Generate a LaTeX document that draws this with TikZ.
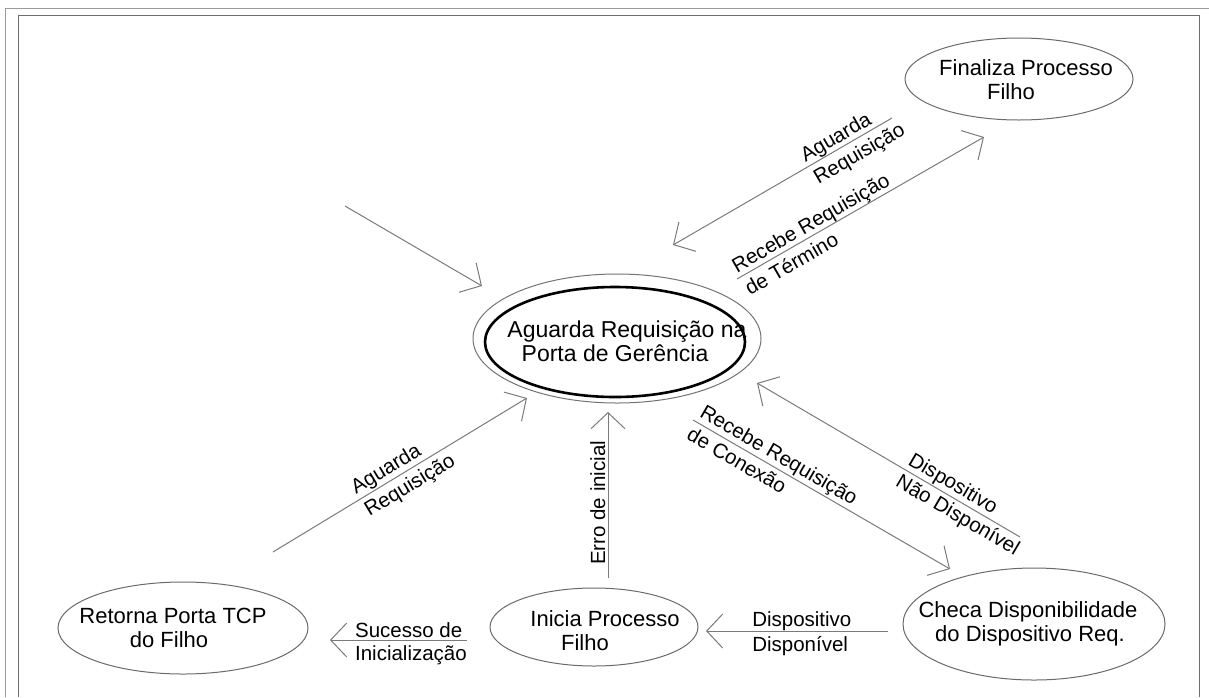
\documentclass[tikz,border=0pt]{standalone}
\usepackage{fontspec}
\setmainfont{Liberation Sans}
\usetikzlibrary{arrows.meta,shapes.geometric,calc}
\definecolor{connc}{HTML}{7A7A7A}
\definecolor{edgec}{HTML}{6A6A6A}
\definecolor{framea}{HTML}{9A9A9A}
\definecolor{frameb}{HTML}{6E6E6E}
\tikzset{
  conn/.style={draw=connc, line width=1pt, -{Straight Barb[length=16pt,width=34pt,line width=1pt]}},
  stateshape/.style={ellipse, draw=edgec, line width=1pt, inner sep=0pt},
  boxtext/.style={align=center, font=\fontsize{22}{24}\selectfont, inner sep=0pt},
  lbl/.style={font=\fontsize{20.5}{24}\selectfont, inner sep=0pt},
}
\newcommand{\edgelbl}[7]{%
  \begin{scope}[shift={(#2)}, rotate=#3, transform shape]
    \node[lbl, anchor=base west] (#1a) at (0,#6) {#4};
    \node[lbl, anchor=base west] (#1b) at (0,#7) {#5};
  \end{scope}}
\begin{document}
\begin{tikzpicture}[x=1pt,y=1pt]
\useasboundingbox (0,-697) rectangle (1209,0);
% frame
\draw[framea, line width=1pt] (5,-697) -- (5,-8) -- (1209,-8);
\draw[frameb, line width=1pt] (18,-697) -- (18,-15) -- (1199,-15) -- (1199,-697);

% states
\node[stateshape, draw=black!55, minimum width=288pt, minimum height=129pt] (mainout) at (617,-338.5) {};
\node[stateshape, draw=black, line width=2.6pt, minimum width=260pt, minimum height=110pt] (main) at (615,-342) {};
\node[boxtext, font=\fontsize{23}{24}\selectfont] (maint) at (615,-341) {\hspace*{24pt}Aguarda Requisição na\\Porta de Gerência};

\node[stateshape, minimum width=228pt, minimum height=82pt] (fin) at (1019,-79) {};
\node[boxtext] (fint) at (1019,-80) {\hspace*{14pt}Finaliza Processo\\Filho\hspace*{16pt}\mbox{}};

\node[stateshape, minimum width=250pt, minimum height=92pt] (ret) at (183,-628) {};
\node[boxtext] (rett) at (183,-628) {Retorna Porta TCP\hspace*{20pt}\mbox{}\\do Filho\hspace*{28pt}\mbox{}};

\node[stateshape, minimum width=208pt, minimum height=78pt] (ini) at (594,-627) {};
\node[boxtext] (init) at (594,-631) {\hspace*{22pt}Inicia Processo\\Filho\hspace*{18pt}\mbox{}};

\node[stateshape, minimum width=262pt, minimum height=112pt] (chk) at (1034,-624) {};
\node[boxtext] (chkt) at (1034,-624) {Checa Disponibilidade\hspace*{12pt}\mbox{}\\do Dispositivo Req.\hspace*{8pt}\mbox{}};

% connector ends
\coordinate (inS) at (345,-206); \coordinate (inT) at (482,-286);
\coordinate (bS) at (892,-118); \coordinate (bT) at (673,-245);
\coordinate (cS) at (737,-279); \coordinate (cT) at (984,-137);
\coordinate (dS) at (273,-552); \coordinate (dT) at (527,-398);
\coordinate (eS) at (608,-578); \coordinate (eT) at (608,-412);
\coordinate (fS) at (693,-420); \coordinate (fT) at (950,-569);
\coordinate (gS) at (1020,-537); \coordinate (gT) at (757,-383);
\coordinate (hS) at (888,-631); \coordinate (hT) at (706,-631);
\coordinate (iS) at (467,-640); \coordinate (iT) at (330,-640);

% connectors
\draw[conn] (inS) -- (inT);
\draw[conn] (bS) -- (bT);
\draw[conn] (cS) -- (cT);
\draw[conn] (dS) -- (dT);
\draw[conn] (eS) -- (eT);
\draw[conn] (fS) -- (fT);
\draw[conn] (gS) -- (gT);
\draw[conn] (hS) -- (hT);
\draw[conn] (iS) -- (iT);

% label anchor points
\coordinate (Pb) at ($(bS)!0.384!(bT)$);
\coordinate (Pc) at ($(cS)!0.01!(cT)$);
\coordinate (Pd) at ($(dS)!0.339!(dT)$);
\coordinate (Pe) at ($(eS)!0.078!(eT)$);
\coordinate (Pf) at ($(fS)!0.01!(fT)$);
\coordinate (Pg) at ($(gS)!0.441!(gT)$);
\coordinate (Ph) at ($(hS)!0.747!(hT)$);
\coordinate (Pi) at ($(iS)!0.818!(iT)$);

% labels
\edgelbl{lb}{Pb}{30.1}{Aguarda}{Requisição}{5}{-21}
\edgelbl{lc}{Pc}{29.9}{Recebe Requisição}{de Término}{5}{-21}
\edgelbl{ld}{Pd}{31.2}{Aguarda}{Requisição}{6}{-20}
\edgelbl{lf}{Pf}{-30.1}{Recebe Requisição}{de Conexão}{6}{-20}
\edgelbl{lg}{Pg}{-30.4}{Dispositivo}{Não Disponível}{6}{-19}
\edgelbl{lh}{Ph}{0}{Dispositivo}{Disponível}{5}{-20}
\edgelbl{li}{Pi}{0}{Sucesso de}{Inicialização}{3}{-20}
\begin{scope}[shift={(Pe)}, rotate=90, transform shape]
  \node[lbl, anchor=base west] (le) at (0,3) {Erro de inicial};
\end{scope}
\end{tikzpicture}
\end{document}
